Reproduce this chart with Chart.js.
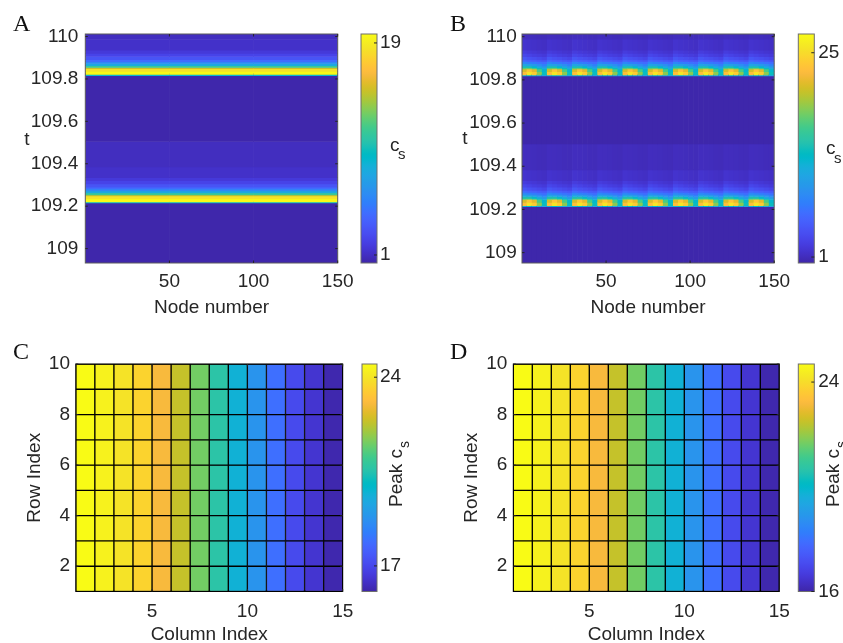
<!DOCTYPE html>
<html><head><meta charset="utf-8">
<script src="https://cdn.jsdelivr.net/npm/chart.js@4/dist/chart.umd.min.js"></script>
<style>
html,body{margin:0;padding:0;background:#fff;overflow:hidden;width:843px;height:643px;position:relative}
canvas{position:absolute;left:0;top:0}
</style></head><body>
<canvas id="heatA" width="843" height="660"></canvas>
<canvas id="cbA" width="843" height="660"></canvas>
<canvas id="heatB" width="843" height="660"></canvas>
<canvas id="cbB" width="843" height="660"></canvas>
<canvas id="heatC" width="843" height="660"></canvas>
<canvas id="cbC" width="843" height="660"></canvas>
<canvas id="heatD" width="843" height="660"></canvas>
<canvas id="cbD" width="843" height="660"></canvas>
<script>
// ================= DATA =================
// Panels A & B : node axis and time axis
const nodeTicks = [50, 100, 150];
const timeTicks = [109, 109.2, 109.4, 109.6, 109.8, 110];

// time of the sharp onset (lower edge) of each bright band
const onsetA = [109.215, 109.816];
const onsetB = [109.213, 109.818];
// end of each profile row, as time after the onset
const rowEnd = [0.005, 0.02, 0.033, 0.038, 0.047, 0.057, 0.066, 0.075, 0.09, 0.105, 0.12, 0.17, 0.29, 0.61];

// Panel A: c_s in each row (same for every node); blocks of nodes
const csA = [9, 19.6, 18.5, 15, 11.5, 8, 6, 4.5, 3.2, 2.3, 1.7, 1.2, 0.9, 0.4];
const csRestA = 0.4;
const nodeBlocksA = [[0, 50], [50, 100], [100, 150]];

// Panel B: 10 segments of 15 nodes, each split in 5 groups of 3 nodes
const segmentStart = [0, 15, 30, 45, 60, 75, 90, 105, 120, 135];
const groupSpan = [[0, 3], [3, 6], [6, 9], [9, 12], [12, 15]];
const csB = [
  [12, 12.5, 12, 11, 10],
  [23, 25.8, 24, 18.5, 13.5],
  [21, 23.5, 21.5, 16.5, 12.5],
  [17, 17.5, 16, 13.5, 11],
  [14, 14, 12.5, 11, 9.5],
  [10.5, 10, 9.5, 8.5, 7.5],
  [8, 7.5, 7, 6.5, 6],
  [6, 5.5, 5.2, 4.8, 4.5],
  [4.4, 4, 3.7, 3.4, 3.1],
  [3.2, 2.9, 2.6, 2.4, 2.2],
  [2.4, 2.2, 2.0, 1.8, 1.7],
  [1.7, 1.6, 1.5, 1.4, 1.3],
  [1.1, 1.05, 1.0, 0.95, 0.9],
  [0.4, 0.4, 0.4, 0.4, 0.4]
];
const csRestB = 0.4;

// Panels C & D : peak c_s per column (rows 1..9 identical)
const columnEdges = [1, 2, 3, 4, 5, 6, 7, 8, 9, 10, 11, 12, 13, 14, 15];
const rowEdges = [1, 2, 3, 4, 5, 6, 7, 8, 9, 10];
const peakC = [24.49, 24.29, 23.96, 23.62, 23.01, 22.35, 21.54, 20.61, 19.68, 18.79, 17.92, 17.05, 16.52, 16.12];
const peakD = [24.69, 24.48, 24.14, 23.80, 23.17, 22.48, 21.65, 20.69, 19.74, 18.82, 17.93, 17.03, 16.49, 16.07];
const columnTicks = [5, 10, 15];
const rowTicks = [2, 4, 6, 8, 10];

// colour limits and colourbar ticks
const climA = [0.32, 19.76];
const climB = [0.3, 27.2];
const climC = [16.05, 24.49];
const climD = [16.0, 24.69];
const cbTicksA = [1, 19];
const cbTicksB = [1, 25];
const cbTicksC = [17, 24];
const cbTicksD = [16, 24];

// ================= STYLE =================
const W = 843, HC = 660;
const FONT = "'Liberation Sans', Arial, Helvetica, sans-serif";
const SERIF = "'Liberation Serif', 'Times New Roman', serif";
const AXC = '#262626';
const PARULA = [[62,38,168],[64,42,180],[66,46,192],[67,50,203],[69,55,213],[70,60,222],[71,65,229],[71,71,235],[72,77,240],[72,82,244],[71,88,248],[70,94,251],[69,99,253],[66,105,254],[62,111,255],[56,117,254],[50,124,252],[47,129,250],[46,135,247],[45,140,243],[43,145,239],[39,151,235],[37,155,232],[35,160,229],[32,165,227],[28,169,223],[24,173,219],[18,177,214],[8,181,208],[1,184,202],[2,186,195],[11,189,189],[25,191,182],[36,193,174],[44,196,167],[49,198,159],[55,200,151],[63,202,142],[74,203,132],[87,204,122],[100,205,111],[114,205,100],[129,204,89],[143,203,78],[157,201,67],[171,199,57],[185,196,49],[197,194,42],[209,191,39],[220,189,41],[230,187,45],[240,186,54],[248,186,61],[254,190,60],[254,195,56],[254,201,52],[252,207,48],[250,214,45],[247,220,42],[245,227,39],[245,233,36],[246,239,32],[247,245,27],[249,251,21]];
function parula(f) {
  f = Math.max(0, Math.min(1, f));
  const p = f * 63, i = Math.min(62, Math.floor(p)), t = p - i;
  const a = PARULA[i], b = PARULA[i + 1];
  return 'rgb(' + [0,1,2].map(k => Math.round(a[k] + (b[k] - a[k]) * t)).join(',') + ')';
}

// ================= CELLS =================
function pulseCells(onsets, blocks, valueAt, rest) {
  const cells = [];
  blocks.forEach((blk) => {
    const xc = (blk[0] + blk[1]) / 2;
    cells.push({x: xc, y: [108.8, onsets[0]], v: rest});
    onsets.forEach(t0 => {
      let prev = 0;
      rowEnd.forEach((e, r) => {
        cells.push({x: xc, y: [t0 + prev, t0 + e], v: valueAt(r, blk)});
        prev = e;
      });
    });
  });
  return cells;
}
const cellsA = pulseCells(onsetA, nodeBlocksA, (r) => csA[r], csRestA);
const blocksB = [];
segmentStart.forEach(s => groupSpan.forEach((g, gi) => blocksB.push([s + g[0], s + g[1], gi])));
const cellsB = pulseCells(onsetB, blocksB, (r, blk) => csB[r][blk[2]], csRestB);

function gridCells(vals) {
  const cells = [];
  for (let r = 0; r < rowEdges.length - 1; r++)
    for (let c = 0; c < columnEdges.length - 1; c++)
      cells.push({x: (columnEdges[c] + columnEdges[c + 1]) / 2, y: [rowEdges[r], rowEdges[r + 1]], v: vals[c]});
  return cells;
}
const cellsC = gridCells(peakC);
const cellsD = gridCells(peakD);

// ================= CHARTS =================
function heatChart(id, p) {
  const norm = v => (v - p.clim[0]) / (p.clim[1] - p.clim[0]);
  const decor = {
    id: 'decor',
    afterDatasetsDraw(chart) {
      const ctx = chart.ctx, a = chart.chartArea, xs = chart.scales.x, ys = chart.scales.y;
      ctx.save();
      ctx.strokeStyle = p.boxColor; ctx.lineWidth = 1;
      ctx.strokeRect(a.left, a.top, a.right - a.left, a.bottom - a.top);
      ctx.strokeStyle = AXC;
      ctx.beginPath();
      p.xTicks.forEach(v => { const x = xs.getPixelForValue(v);
        ctx.moveTo(x, a.bottom); ctx.lineTo(x, a.bottom - 2.5);
        ctx.moveTo(x, a.top); ctx.lineTo(x, a.top + 2.5); });
      p.yTicks.forEach(v => { const y = ys.getPixelForValue(v);
        ctx.moveTo(a.left, y); ctx.lineTo(a.left + 2.5, y);
        ctx.moveTo(a.right, y); ctx.lineTo(a.right - 2.5, y); });
      ctx.stroke();
      ctx.restore();
    },
    afterDraw(chart) {
      const ctx = chart.ctx;
      ctx.save();
      ctx.fillStyle = '#111';
      ctx.font = '24px ' + SERIF;
      ctx.textAlign = 'left'; ctx.textBaseline = 'alphabetic';
      ctx.fillText(p.letter[0], p.letter[1], p.letter[2]);
      if (p.tLabel) {
        ctx.fillStyle = AXC;
        ctx.font = '19px ' + FONT;
        ctx.textAlign = 'center';
        ctx.fillText('t', p.tLabel[0], p.tLabel[1]);
      }
      ctx.restore();
    }
  };
  return new Chart(document.getElementById(id), {
    type: 'bar',
    data: {datasets: [{
      data: p.cells,
      backgroundColor: c => parula(norm(c.raw.v)),
      borderColor: '#000', borderWidth: p.bw, borderSkipped: false,
      barPercentage: 1, categoryPercentage: 1, clip: p.clip
    }]},
    options: {
      responsive: false, animation: false, events: [], devicePixelRatio: 1,
      layout: {padding: {left: p.area.l - p.yW, top: p.area.t, right: W - p.area.r, bottom: HC - p.area.b - p.xH}},
      plugins: {legend: {display: false}, tooltip: {enabled: false}},
      scales: {
        x: {
          type: 'linear', offset: false, min: p.x[0], max: p.x[1],
          afterBuildTicks: s => { s.ticks = p.xTicks.map(v => ({value: v})); },
          afterFit: s => { s.height = p.xH; s.paddingLeft = 0; s.paddingRight = 0; },
          grid: {display: false, drawTicks: false}, border: {display: false},
          ticks: {autoSkip: false, maxRotation: 0, minRotation: 0, padding: p.xPad, color: AXC,
                  font: {family: FONT, size: 19}, callback: v => String(v)},
          title: {display: true, text: p.xTitle, color: AXC, font: {family: FONT, size: 19}, padding: {top: 0, bottom: 0}}
        },
        y: {
          type: 'linear', position: 'left', beginAtZero: false, min: p.y[0], max: p.y[1],
          afterBuildTicks: s => { s.ticks = p.yTicks.map(v => ({value: v})); },
          afterFit: s => { s.width = p.yW; s.paddingTop = 0; s.paddingBottom = 0; },
          grid: {display: false, drawTicks: false}, border: {display: false},
          ticks: {autoSkip: false, padding: p.yPad, color: AXC, font: {family: FONT, size: 19},
                  callback: v => String(+Number(v).toFixed(1))},
          title: p.yTitle ? {display: true, text: p.yTitle, color: AXC, font: {family: FONT, size: 19}, padding: {top: 0, bottom: 0}} : {display: false}
        }
      }
    },
    plugins: [decor]
  });
}

function colorbarChart(id, p) {
  const cb = {
    id: 'cb',
    beforeDatasetsDraw(chart) {
      const ctx = chart.ctx, a = chart.chartArea, ys = chart.scales.y;
      ctx.save();
      const g = ctx.createLinearGradient(0, a.bottom, 0, a.top);
      PARULA.forEach((c, i) => g.addColorStop(i / 63, 'rgb(' + c.join(',') + ')'));
      ctx.fillStyle = g;
      ctx.fillRect(a.left, a.top, a.right - a.left, a.bottom - a.top);
      ctx.strokeStyle = '#6e6e6e'; ctx.lineWidth = 1;
      ctx.strokeRect(a.left, a.top, a.right - a.left, a.bottom - a.top);
      ctx.strokeStyle = AXC;
      ctx.beginPath();
      p.ticks.forEach(v => { const y = ys.getPixelForValue(v);
        ctx.moveTo(a.right, y); ctx.lineTo(a.right - 3, y); });
      ctx.stroke();
      ctx.restore();
    },
    afterDraw(chart) {
      const ctx = chart.ctx, a = chart.chartArea;
      ctx.save();
      ctx.fillStyle = AXC;
      ctx.textBaseline = 'alphabetic'; ctx.textAlign = 'left';
      if (p.rotated) {
        ctx.translate(a.right + p.lab[0], p.lab[1]);
        ctx.rotate(-Math.PI / 2);
        ctx.font = '19px ' + FONT;
        ctx.fillText(p.text, 0, 0);
        const w = ctx.measureText(p.text).width;
        ctx.font = '14px ' + FONT;
        ctx.fillText(p.sub, w + 1, 7);
      } else {
        ctx.font = '19px ' + FONT;
        ctx.fillText(p.text, a.right + p.lab[0], p.lab[1]);
        ctx.font = '15px ' + FONT;
        ctx.fillText(p.sub, a.right + p.lab[2], p.lab[3]);
      }
      ctx.restore();
    }
  };
  return new Chart(document.getElementById(id), {
    type: 'scatter',
    data: {datasets: []},
    options: {
      responsive: false, animation: false, events: [], devicePixelRatio: 1,
      layout: {padding: {left: p.area.l, top: p.area.t, right: W - p.area.r - p.cbW, bottom: HC - p.area.b}},
      plugins: {legend: {display: false}, tooltip: {enabled: false}},
      scales: {
        x: {type: 'linear', display: false, min: 0, max: 1},
        y: {
          type: 'linear', position: 'right', min: p.clim[0], max: p.clim[1],
          afterBuildTicks: s => { s.ticks = p.ticks.map(v => ({value: v})); },
          afterFit: s => { s.width = p.cbW; s.paddingTop = 0; s.paddingBottom = 0; },
          grid: {display: false, drawTicks: false}, border: {display: false},
          ticks: {autoSkip: false, padding: p.pad, color: AXC, font: {family: FONT, size: 19}, callback: v => String(v)}
        }
      }
    },
    plugins: [cb]
  });
}

heatChart('heatA', {cells: cellsA, clim: climA, area: {l: 85.3, t: 34, r: 337.7, b: 263}, yW: 85.3, xH: 56,
  x: [0, 150], y: [108.932, 110.012], xTicks: nodeTicks, yTicks: timeTicks, xPad: 7.3, yPad: 7,
  xTitle: 'Node number', bw: 0, clip: 0, boxColor: '#5c5c5c', letter: ['A', 13, 31], tLabel: [27, 145]});
colorbarChart('cbA', {clim: climA, ticks: cbTicksA, area: {l: 361, t: 34, r: 377, b: 263}, cbW: 45, pad: 3,
  text: 'c', sub: 's', lab: [13, 151, 21, 159]});

heatChart('heatB', {cells: cellsB, clim: climB, area: {l: 522, t: 34, r: 774.2, b: 263}, yW: 90, xH: 56.4,
  x: [0, 150], y: [108.952, 110.0125], xTicks: nodeTicks, yTicks: timeTicks, xPad: 7.3, yPad: 5.3,
  xTitle: 'Node number', bw: 0, clip: 0, boxColor: '#5c5c5c', letter: ['B', 450, 31], tLabel: [465, 144]});
colorbarChart('cbB', {clim: climB, ticks: cbTicksB, area: {l: 798.3, t: 34, r: 814.3, b: 263}, cbW: 28, pad: 4,
  text: 'c', sub: 's', lab: [11.7, 154, 19.7, 163]});

heatChart('heatC', {cells: cellsC, clim: climC, area: {l: 75.8, t: 364, r: 342.7, b: 591.5}, yW: 52.5, xH: 54.9,
  x: [1, 15], y: [1, 10], xTicks: columnTicks, yTicks: rowTicks, xPad: 8.8, yPad: 5.8,
  xTitle: 'Column Index', yTitle: 'Row Index', bw: 1, clip: 1, boxColor: '#000', letter: ['C', 13, 359]});
colorbarChart('cbC', {clim: climC, ticks: cbTicksC, area: {l: 362, t: 364, r: 377, b: 591.5}, cbW: 45, pad: 3,
  rotated: true, text: 'Peak c', sub: 's', lab: [25, 507]});

heatChart('heatD', {cells: cellsD, clim: climD, area: {l: 513.3, t: 364, r: 779.3, b: 591.5}, yW: 53, xH: 54.9,
  x: [1, 15], y: [1, 10], xTicks: columnTicks, yTicks: rowTicks, xPad: 8.8, yPad: 6,
  xTitle: 'Column Index', yTitle: 'Row Index', bw: 1, clip: 1, boxColor: '#000', letter: ['D', 450, 359]});
colorbarChart('cbD', {clim: climD, ticks: cbTicksD, area: {l: 798.3, t: 364, r: 814.3, b: 591.5}, cbW: 28, pad: 4,
  rotated: true, text: 'Peak c', sub: 's', lab: [25, 507]});
</script>
</body></html>
